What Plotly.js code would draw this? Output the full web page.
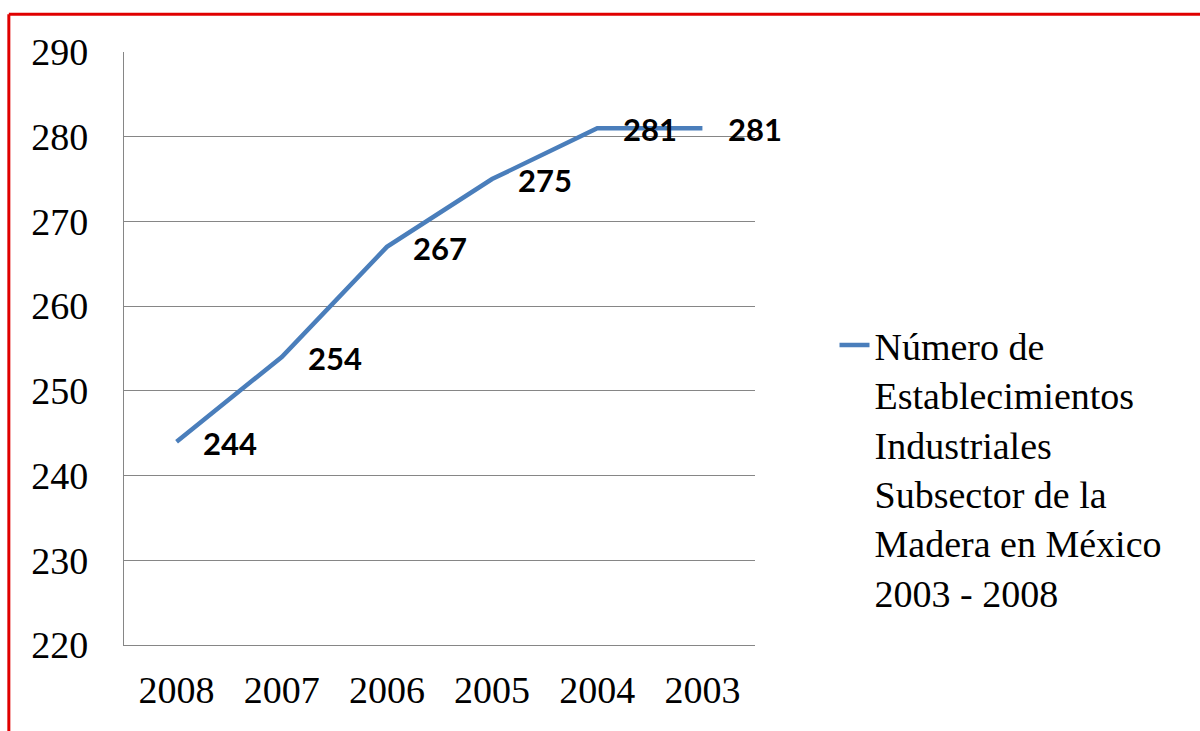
<!DOCTYPE html>
<html>
<head>
<meta charset="utf-8">
<script src="https://cdn.plot.ly/plotly-3.0.1.min.js"></script>
<style>
  html, body { margin: 0; padding: 0; background: #ffffff; }
  #chart { width: 1200px; height: 731px; }
</style>
</head>
<body>
<div id="chart"></div>
<script>
// Data
const years = ["2008", "2007", "2006", "2005", "2004", "2003"];
const establishments = [244, 254, 267, 275, 281, 281];
const yTicks = [220, 230, 240, 250, 260, 270, 280, 290];
const seriesName = "Número de<br>Establecimientos<br>Industriales<br>Subsector de la<br>Madera en México<br>2003 - 2008";

const SERIF = "Liberation Serif, Times New Roman, serif";
const SANS = "Lato, Liberation Sans, sans-serif";

const trace = {
  x: years,
  y: establishments,
  type: "scatter",
  mode: "lines",
  name: seriesName,
  line: { color: "#4A7EBB", width: 4.5 },
  hoverinfo: "x+y"
};

const labels = years.map((yr, i) => ({
  x: i,
  y: establishments[i],
  xref: "x",
  yref: "y",
  text: "<b>" + establishments[i] + "</b>",
  showarrow: false,
  xanchor: "left",
  yanchor: "middle",
  xshift: 24,
  yshift: -1,
  font: { family: SANS, size: 31, color: "#000000" }
}));

const layout = {
  width: 1200,
  height: 731,
  paper_bgcolor: "#ffffff",
  plot_bgcolor: "#ffffff",
  margin: { l: 124, r: 445, t: 52, b: 86 },
  font: { family: SERIF, color: "#000000" },
  xaxis: {
    type: "category",
    range: [-0.5, 5.5],
    showgrid: false,
    zeroline: false,
    showline: true,
    linecolor: "#868686",
    linewidth: 1.2,
    ticks: "",
    ticklabelstandoff: 11,
    tickfont: { size: 38, family: SERIF, color: "#000000" },
    fixedrange: true
  },
  yaxis: {
    range: [220, 290],
    tickvals: yTicks,
    ticktext: yTicks.map(String),
    showgrid: true,
    gridcolor: "#868686",
    gridwidth: 1.2,
    zeroline: false,
    showline: true,
    linecolor: "#868686",
    linewidth: 1.2,
    ticks: "",
    ticklabelstandoff: 27,
    tickfont: { size: 38, family: SERIF, color: "#000000" },
    fixedrange: true
  },
  showlegend: true,
  legend: {
    x: 1.126,
    y: 0.5585,
    xanchor: "left",
    yanchor: "top",
    valign: "top",
    bgcolor: "rgba(0,0,0,0)",
    font: { size: 38, family: SERIF, color: "#000000" },
    itemwidth: 30
  },
  annotations: labels,
  shapes: [
    { type: "line", xref: "paper", yref: "paper", x0: -0.1825, x1: 2.0, y0: 1.0635, y1: 1.0635,
      line: { color: "#e00000", width: 3 } },
    { type: "line", xref: "paper", yref: "paper", x0: -0.1825, x1: -0.1825, y0: 1.0635, y1: -0.5,
      line: { color: "#e00000", width: 3 } }
  ]
};

Plotly.newPlot("chart", [trace], layout, { displayModeBar: false });
</script>
</body>
</html>
